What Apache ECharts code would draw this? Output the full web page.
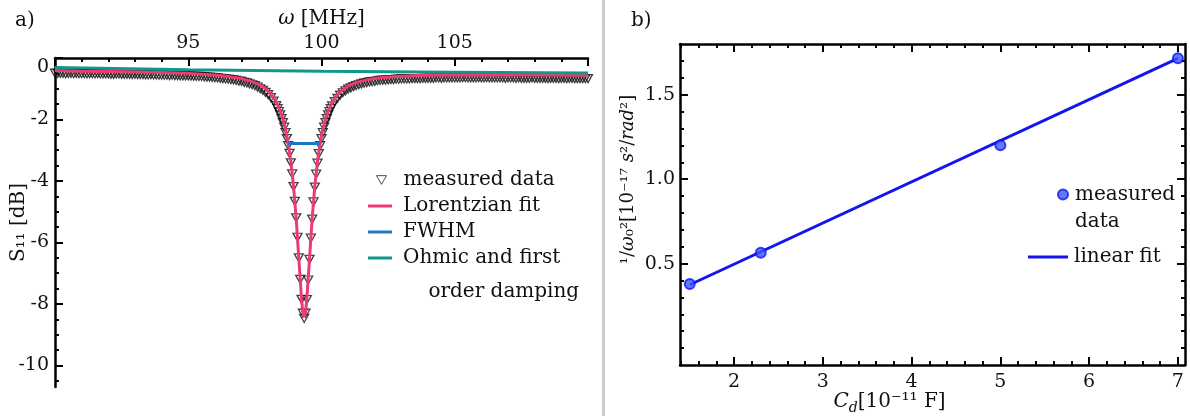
<!DOCTYPE html>
<html>
<head>
<meta charset="utf-8">
<script src="https://cdn.jsdelivr.net/npm/echarts@6/dist/echarts.min.js"></script>
<style>
  html, body { margin: 0; padding: 0; background: #fff; }
  #main { width: 1190px; height: 416px; }
</style>
</head>
<body>
<div id="main"></div>
<script>
// ---- panel a) : reflection S11 around the resonance ----
const measFreq = [
  90.0, 90.1, 90.2, 90.3, 90.4, 90.5, 90.6, 90.7, 90.8, 90.9,
  91.0, 91.1, 91.2, 91.3, 91.4, 91.5, 91.6, 91.7, 91.8, 91.9,
  92.0, 92.1, 92.2, 92.3, 92.4, 92.5, 92.6, 92.7, 92.8, 92.9,
  93.0, 93.1, 93.2, 93.3, 93.4, 93.5, 93.6, 93.7, 93.8, 93.9,
  94.0, 94.1, 94.2, 94.3, 94.4, 94.5, 94.6, 94.7, 94.8, 94.9,
  95.0, 95.1, 95.2, 95.3, 95.4, 95.5, 95.6, 95.7, 95.8, 95.9,
  96.0, 96.1, 96.2, 96.3, 96.4, 96.5, 96.6, 96.7, 96.8, 96.9,
  97.0, 97.1, 97.2, 97.3, 97.4, 97.5, 97.6, 97.7, 97.8, 97.9,
  98.0, 98.1, 98.2, 98.3,
  98.35, 98.4, 98.45, 98.5, 98.55, 98.6, 98.65, 98.7, 98.75, 98.8,
  98.85, 98.9, 98.95, 99.0, 99.05, 99.1, 99.15, 99.2, 99.25, 99.3,
  99.35, 99.4, 99.45, 99.5, 99.55, 99.6, 99.65, 99.7, 99.75, 99.8,
  99.85, 99.9, 99.95, 100.0, 100.05, 100.1, 100.15, 100.2, 100.25, 100.3,
  100.35,
  100.4, 100.5, 100.6, 100.7, 100.8, 100.9, 101.0, 101.1, 101.2, 101.3,
  101.4, 101.5, 101.6, 101.7, 101.8, 101.9, 102.0, 102.1, 102.2, 102.3,
  102.4, 102.5, 102.6, 102.7, 102.8, 102.9, 103.0,
  103.1, 103.2, 103.3, 103.4, 103.5, 103.6, 103.7, 103.8, 103.9, 104.0,
  104.1, 104.2, 104.3, 104.4, 104.5, 104.6, 104.7, 104.8, 104.9, 105.0,
  105.1, 105.2, 105.3, 105.4, 105.5, 105.6, 105.7, 105.8, 105.9, 106.0,
  106.1, 106.2, 106.3, 106.4, 106.5, 106.6, 106.7, 106.8, 106.9, 107.0,
  107.1, 107.2, 107.3, 107.4, 107.5, 107.6, 107.7, 107.8, 107.9, 108.0,
  108.1, 108.2, 108.3, 108.4, 108.5, 108.6, 108.7, 108.8, 108.9, 109.0,
  109.1, 109.2, 109.3, 109.4, 109.5, 109.6, 109.7, 109.8, 109.9, 110.0
];
const measS11 = [
  -0.49, -0.50, -0.50, -0.50, -0.51, -0.50, -0.50, -0.51, -0.50, -0.51,
  -0.51, -0.51, -0.52, -0.51, -0.51, -0.52, -0.51, -0.52, -0.52, -0.52,
  -0.52, -0.53, -0.53, -0.52, -0.52, -0.53, -0.53, -0.53, -0.53, -0.54,
  -0.53, -0.54, -0.54, -0.54, -0.55, -0.55, -0.54, -0.55, -0.55, -0.56,
  -0.56, -0.56, -0.56, -0.57, -0.56, -0.57, -0.57, -0.58, -0.58, -0.58,
  -0.58, -0.59, -0.59, -0.60, -0.60, -0.60, -0.61, -0.62, -0.62, -0.63,
  -0.64, -0.65, -0.66, -0.67, -0.68, -0.69, -0.70, -0.71, -0.73, -0.75,
  -0.76, -0.79, -0.81, -0.84, -0.87, -0.90, -0.95, -1.00, -1.05, -1.12,
  -1.19, -1.29, -1.40, -1.55,
  -1.65, -1.74, -1.85, -1.97, -2.10, -2.25, -2.43, -2.62, -2.85, -3.10,
  -3.41, -3.77, -4.18, -4.66, -5.20, -5.83, -6.50, -7.20, -7.85, -8.30,
  -8.47, -8.30, -7.86, -7.22, -6.55, -5.86, -5.24, -4.68, -4.20, -3.78,
  -3.42, -3.11, -2.85, -2.62, -2.43, -2.25, -2.10, -1.97, -1.85, -1.74,
  -1.65,
  -1.56, -1.42, -1.31, -1.21, -1.13, -1.07, -1.01, -0.97, -0.93, -0.90,
  -0.87, -0.84, -0.82, -0.80, -0.78, -0.77, -0.76, -0.74, -0.73, -0.72,
  -0.72, -0.71, -0.70, -0.70, -0.69, -0.69, -0.68,
  -0.68, -0.68, -0.68, -0.67, -0.67, -0.67, -0.67, -0.66, -0.66, -0.66,
  -0.66, -0.66, -0.65, -0.65, -0.66, -0.65, -0.65, -0.65, -0.65, -0.65,
  -0.65, -0.65, -0.64, -0.64, -0.65, -0.65, -0.65, -0.65, -0.64, -0.65,
  -0.65, -0.64, -0.65, -0.65, -0.65, -0.65, -0.65, -0.65, -0.66, -0.65,
  -0.65, -0.65, -0.66, -0.65, -0.66, -0.66, -0.66, -0.66, -0.65, -0.66,
  -0.66, -0.66, -0.66, -0.66, -0.67, -0.66, -0.66, -0.66, -0.67, -0.66,
  -0.66, -0.67, -0.66, -0.66, -0.67, -0.67, -0.67, -0.67, -0.67, -0.67
];
const fitFreq = [
  90, 91, 92, 93, 94, 95, 96, 96.5, 97, 97.4, 97.7, 97.9, 98.1, 98.3,
  98.45, 98.55, 98.65, 98.75, 98.85, 98.95, 99.05, 99.15, 99.25, 99.3,
  99.35, 99.4, 99.45, 99.55, 99.65, 99.75, 99.85, 99.95, 100.05, 100.15,
  100.25, 100.4, 100.6, 100.8, 101.0, 101.3, 101.7, 102.2, 102.8, 103.6,
  104.6, 106, 108, 110
];
const fitS11 = [
  -0.41, -0.43, -0.44, -0.45, -0.47, -0.50, -0.55, -0.60, -0.67, -0.77, -0.88, -1.00, -1.17, -1.42,
  -1.72, -1.97, -2.31, -2.76, -3.36, -4.16, -5.22, -6.53, -7.83, -8.27,
  -8.43, -8.27, -7.83, -6.53, -5.22, -4.16, -3.36, -2.76, -2.31, -1.97,
  -1.72, -1.44, -1.19, -1.03, -0.91, -0.80, -0.71, -0.64, -0.60, -0.57,
  -0.55, -0.55, -0.55, -0.56
];
const fwhmFreq = [98.75, 99.95];
const fwhmS11 = [-2.78, -2.78];
const dampFreq = [90, 95, 100, 105, 110];
const dampS11 = [-0.31, -0.38, -0.43, -0.46, -0.49];
const s11Labels = [0, -2, -4, -6, -8, -10];
const s11Minor = [-0.5, -1, -1.5, -2.5, -3, -3.5, -4.5, -5, -5.5, -6.5, -7, -7.5, -8.5, -9, -9.5, -10.5];

// ---- panel b) : 1/w0^2 against capacitance ----
const capacitance = [1.5, 2.3, 5.0, 7.0];
const invOmegaSq = [0.38, 0.565, 1.2, 1.715];
const linFitC = [1.5, 7.0];
const linFitY = [0.375, 1.715];
const capLabels = [2, 3, 4, 5, 6, 7];
const capMinor = [1.4, 1.6, 1.8, 2.2, 2.4, 2.6, 2.8, 3.2, 3.4, 3.6, 3.8, 4.2, 4.4, 4.6, 4.8,
                  5.2, 5.4, 5.6, 5.8, 6.2, 6.4, 6.6, 6.8, 7.0];
const invLabels = [0.5, 1.0, 1.5];
const invMinor = [0, 0.1, 0.2, 0.3, 0.4, 0.6, 0.7, 0.8, 0.9, 1.1, 1.2, 1.3, 1.4, 1.6, 1.7];

const FONT = '"DejaVu Serif", serif';
const PINK = '#ee3a72';
const BLUE = '#1f78c0';
const TEAL = '#10998a';
const FITBLUE = '#1414ee';
const TRI = 'path://M0,0L10,0L5,8.66Z';

const pairs = (xs, ys) => xs.map((x, i) => [x, ys[i]]);

const axisLine = show => ({ show: show, onZero: false, lineStyle: { color: '#000', width: 2.5 } });
const tick = (len, values) => ({ show: true, inside: true, length: len, customValues: values,
  lineStyle: { color: '#000', width: 2 } });
const labelStyle = { fontFamily: FONT, fontSize: 19, color: '#111' };
const nameStyle = { fontFamily: FONT, fontSize: 20, color: '#111' };
const noLabel = { show: false };
const noSplit = { show: false };

const legendText = { fontFamily: FONT, fontSize: 20, color: '#111', lineHeight: 24 };

let chartDom = document.getElementById('main');
let myChart = echarts.init(chartDom);
let option;

option = {
  animation: false,
  backgroundColor: '#fff',
  title: [
    { text: 'a)', left: 10, top: 6, textStyle: { fontFamily: FONT, fontSize: 20, fontWeight: 'normal', color: '#111' } },
    { text: 'b)', left: 626, top: 6, textStyle: { fontFamily: FONT, fontSize: 20, fontWeight: 'normal', color: '#111' } }
  ],
  graphic: [
    { type: 'rect', silent: true, shape: { x: 602, y: 0, width: 3, height: 416 }, style: { fill: '#cdcdcd' } }
  ],
  grid: [
    { left: 55, top: 58, width: 533, height: 329, outerBoundsMode: 'none' },
    { left: 680, top: 44, width: 505, height: 321, outerBoundsMode: 'none' }
  ],
  legend: [
    {
      left: 376, top: 168, padding: 0, itemWidth: 10, itemHeight: 9, selectedMode: false,
      data: [{ name: 'measured data', icon: TRI,
        itemStyle: { color: 'rgba(255,255,255,0)', borderColor: '#222', borderWidth: 1 } }],
      textStyle: Object.assign({}, legendText, { padding: [0, 0, 0, 12] })
    },
    {
      left: 368, top: 194, padding: 0, itemWidth: 24, itemHeight: 3, icon: 'rect', selectedMode: false,
      data: [{ name: 'Lorentzian fit', itemStyle: { color: PINK, borderWidth: 0 } }],
      textStyle: Object.assign({}, legendText, { padding: [0, 0, 0, 6] })
    },
    {
      left: 368, top: 220, padding: 0, itemWidth: 24, itemHeight: 3, icon: 'rect', selectedMode: false,
      data: [{ name: 'FWHM', itemStyle: { color: BLUE, borderWidth: 0 } }],
      textStyle: Object.assign({}, legendText, { padding: [0, 0, 0, 6] })
    },
    {
      left: 368, top: 207, padding: 0, itemWidth: 24, itemHeight: 3, icon: 'rect', selectedMode: false,
      data: [{ name: 'Ohmic and first order damping', itemStyle: { color: TEAL, borderWidth: 0 } }],
      formatter: () => '\nOhmic and first\n    order damping',
      textStyle: Object.assign({}, legendText, { lineHeight: 34, padding: [0, 0, 0, 6] })
    },
    {
      left: 1057, top: 154, padding: 0, itemWidth: 10, itemHeight: 10, icon: 'circle', selectedMode: false,
      data: [{ name: 'measured data b', itemStyle: { color: '#3a58ff', borderColor: FITBLUE, borderWidth: 2 } }],
      formatter: () => '\nmeasured\ndata',
      textStyle: Object.assign({}, legendText, { lineHeight: 27, padding: [0, 0, 0, 2] })
    },
    {
      left: 1028, top: 244, padding: 0, itemWidth: 40, itemHeight: 3, icon: 'rect', selectedMode: false,
      data: [{ name: 'linear fit', itemStyle: { color: FITBLUE, borderWidth: 0 } }],
      textStyle: Object.assign({}, legendText, { lineHeight: 26, padding: [0, 0, 0, 1] })
    }
  ],
  xAxis: [
    {
      gridIndex: 0, type: 'value', position: 'top', min: 90, max: 110, interval: 5,
      name: '{i|ω} [MHz]', nameLocation: 'middle', nameGap: 29, nameMoveOverlap: false,
      nameTextStyle: Object.assign({}, nameStyle, { rich: { i: { fontFamily: FONT, fontSize: 20, fontStyle: 'italic' } } }),
      axisLine: axisLine(true),
      axisTick: { show: true, inside: true, length: 8, lineStyle: { color: '#000', width: 2 } },
      minorTick: { show: true, splitNumber: 5, length: 4, lineStyle: { color: '#000', width: 2 } },
      axisLabel: Object.assign({ showMinLabel: false, showMaxLabel: false, margin: 5 }, labelStyle),
      splitLine: noSplit, minorSplitLine: noSplit
    },
    {
      gridIndex: 1, type: 'value', position: 'bottom', min: 1.39, max: 7.08,
      name: '{i|C}{s|d}[10⁻¹¹ F]', nameLocation: 'middle', nameGap: 24, nameMoveOverlap: false,
      nameTextStyle: Object.assign({}, nameStyle, { lineHeight: 26, padding: [0, 86, 0, 0], rich: {
        i: { fontFamily: FONT, fontSize: 20, fontStyle: 'italic', lineHeight: 26 },
        s: { fontFamily: FONT, fontSize: 14, fontStyle: 'italic', verticalAlign: 'bottom', lineHeight: 16 }
      } }),
      axisLine: axisLine(true),
      axisTick: tick(8, capLabels),
      axisLabel: Object.assign({ customValues: capLabels, margin: 8 }, labelStyle),
      splitLine: noSplit
    },
    {
      gridIndex: 1, type: 'value', position: 'bottom', min: 1.39, max: 7.08,
      axisLine: axisLine(false), axisTick: tick(4, capMinor), axisLabel: noLabel, splitLine: noSplit
    },
    {
      gridIndex: 1, type: 'value', position: 'top', min: 1.39, max: 7.08,
      axisLine: axisLine(true), axisTick: tick(8, capLabels), axisLabel: noLabel, splitLine: noSplit
    },
    {
      gridIndex: 1, type: 'value', position: 'top', min: 1.39, max: 7.08,
      axisLine: axisLine(false), axisTick: tick(4, capMinor), axisLabel: noLabel, splitLine: noSplit
    }
  ],
  yAxis: [
    {
      gridIndex: 0, type: 'value', position: 'left', min: -10.7, max: 0,
      name: 'S₁₁ [dB]', nameLocation: 'middle', nameGap: 26, nameRotate: 90, nameMoveOverlap: false,
      nameTextStyle: nameStyle,
      axisLine: axisLine(true),
      axisTick: tick(8, s11Labels),
      axisLabel: Object.assign({
        customValues: s11Labels, margin: 6,
        formatter: v => (v === 0 ? '{z|0}' : String(v)),
        rich: { z: { fontFamily: FONT, fontSize: 19, color: '#111', padding: [18, 0, 0, 0] } }
      }, labelStyle),
      splitLine: noSplit
    },
    {
      gridIndex: 0, type: 'value', position: 'left', min: -10.7, max: 0,
      axisLine: axisLine(false), axisTick: tick(4, s11Minor), axisLabel: noLabel, splitLine: noSplit
    },
    {
      gridIndex: 1, type: 'value', position: 'left', min: -0.1, max: 1.8,
      name: '¹/{i|ω}₀²[10⁻¹⁷ {i|s}²/{i|rad}²]', nameLocation: 'middle', nameGap: 43, nameRotate: 90,
      nameMoveOverlap: false,
      nameTextStyle: { fontFamily: FONT, fontSize: 18, color: '#111', padding: [0, 0, 0, 50],
        rich: { i: { fontFamily: FONT, fontSize: 18, fontStyle: 'italic' } } },
      axisLine: axisLine(true),
      axisTick: tick(8, invLabels),
      axisLabel: Object.assign({ customValues: invLabels, margin: 5, formatter: v => v.toFixed(1) }, labelStyle),
      splitLine: noSplit
    },
    {
      gridIndex: 1, type: 'value', position: 'left', min: -0.1, max: 1.8,
      axisLine: axisLine(false), axisTick: tick(4, invMinor), axisLabel: noLabel, splitLine: noSplit
    },
    {
      gridIndex: 1, type: 'value', position: 'right', min: -0.1, max: 1.8,
      axisLine: axisLine(true), axisTick: tick(8, invLabels), axisLabel: noLabel, splitLine: noSplit
    },
    {
      gridIndex: 1, type: 'value', position: 'right', min: -0.1, max: 1.8,
      axisLine: axisLine(false), axisTick: tick(4, invMinor), axisLabel: noLabel, splitLine: noSplit
    }
  ],
  series: [
    {
      name: 'measured data', type: 'scatter', xAxisIndex: 0, yAxisIndex: 0,
      data: pairs(measFreq, measS11),
      symbol: TRI, symbolSize: [9, 8], silent: true, z: 2,
      itemStyle: { color: 'rgba(255,255,255,0)', borderColor: '#111', borderWidth: 1.3 }
    },
    {
      name: 'Lorentzian fit', type: 'line', xAxisIndex: 0, yAxisIndex: 0,
      data: pairs(fitFreq, fitS11), symbol: 'none', silent: true, z: 3,
      itemStyle: { color: PINK }, lineStyle: { color: PINK, width: 3 }
    },
    {
      name: 'FWHM', type: 'line', xAxisIndex: 0, yAxisIndex: 0,
      data: pairs(fwhmFreq, fwhmS11), symbol: 'none', silent: true, z: 4,
      itemStyle: { color: BLUE }, lineStyle: { color: BLUE, width: 3 }
    },
    {
      name: 'Ohmic and first order damping', type: 'line', xAxisIndex: 0, yAxisIndex: 0,
      data: pairs(dampFreq, dampS11), symbol: 'none', silent: true, z: 4,
      itemStyle: { color: TEAL }, lineStyle: { color: TEAL, width: 3 }
    },
    {
      name: 'linear fit', type: 'line', xAxisIndex: 1, yAxisIndex: 2,
      data: pairs(linFitC, linFitY), symbol: 'none', silent: true, z: 3,
      itemStyle: { color: FITBLUE }, lineStyle: { color: FITBLUE, width: 3 }
    },
    {
      name: 'measured data b', type: 'scatter', xAxisIndex: 1, yAxisIndex: 2,
      data: pairs(capacitance, invOmegaSq), symbol: 'circle', symbolSize: 10, silent: true, z: 4,
      itemStyle: { color: '#3a58ff', borderColor: FITBLUE, borderWidth: 2 }
    }
  ]
};

option && myChart.setOption(option);
</script>
</body>
</html>
